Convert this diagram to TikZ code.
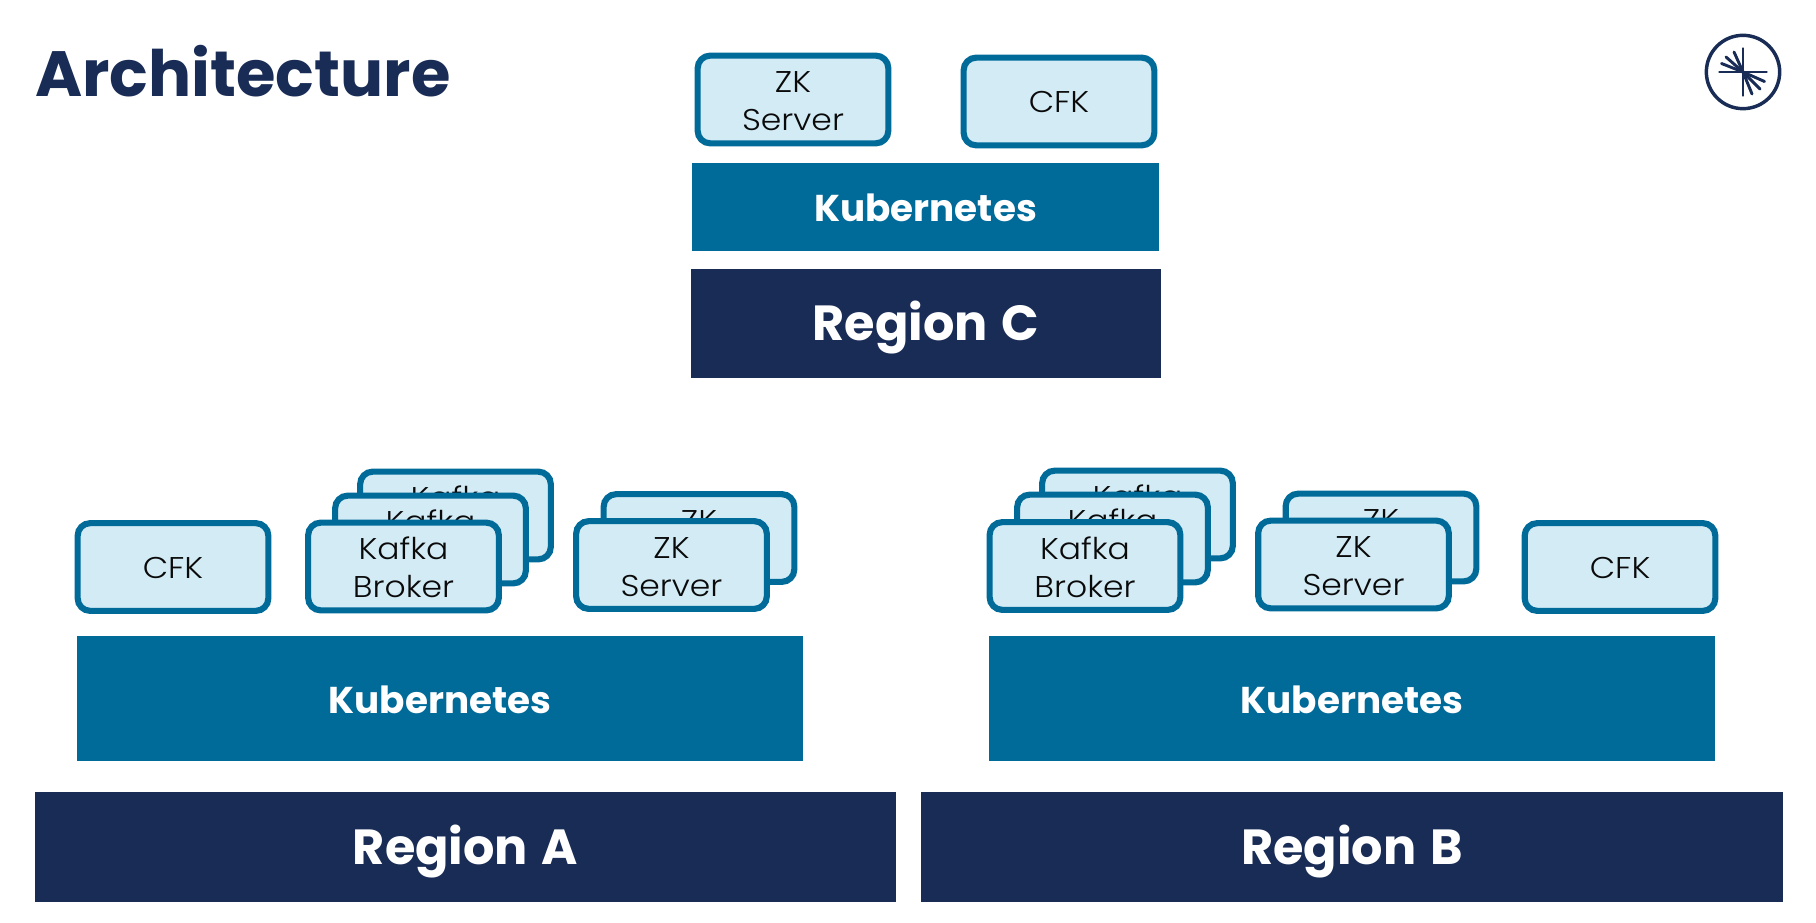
\documentclass[tikz,border=0pt]{standalone}
\usepackage{fontspec}
\setmainfont{Poppins}[WordSpace=1.3]
\newfontfamily\svcfont{Poppins}[UprightFont=* Light,FakeStretch=1.1]
\definecolor{navy}{HTML}{192C56}
\definecolor{kube}{HTML}{006A99}
\definecolor{pale}{HTML}{D2EBF5}
\definecolor{ink}{HTML}{0A0A0A}
\tikzset{
  x=0.75pt,y=-0.75pt,
  rect/.style 2 args={inner sep=0pt,outer sep=0pt,minimum width=#1*0.75pt,minimum height=#2*0.75pt,text=white,font=\bfseries},
  regionbox/.style 2 args={rect={#1}{#2},fill=navy,font=\bfseries\fontsize{37}{40}\selectfont,text height=26pt,text depth=0pt},
  kubebox/.style 2 args={rect={#1}{#2},fill=kube,font=\bfseries\fontsize{28}{32}\selectfont,text height=22.5pt,text depth=0pt},
  svc/.style={draw=kube,fill=pale,line width=4.6pt,rounded corners=9.4pt,inner sep=0pt,outer sep=0pt,
    minimum width=143pt,minimum height=65.8pt,text=ink,align=center,
    font=\svcfont\fontsize{22.5}{28.5}\selectfont,
    text height=46.5pt,text depth=0pt},
  single/.style={text height=16.5pt,text depth=0pt},
  ray/.style={draw=navy,line width=2.2pt,line cap=round},
}
\begin{document}
\begin{tikzpicture}
\useasboundingbox (0,0) rectangle (1816,923);
% title
\node[anchor=base west,inner sep=0pt,text=navy,font=\bfseries\fontsize{48}{52}\selectfont] (title) at (35,97) {Architecture};
% logo
\coordinate (lc) at (1743,72);
\node[draw=navy,line width=2.6pt,circle,minimum size=55pt,inner sep=0pt,outer sep=0pt] (logo) at (lc) {};
\foreach \dx/\dy in {-23.5/0,23.5/0,0/-23.5,0/23.5,-9/-20,-17/-15,-21.5/-8.5,9/22,17/17,21.5/9.5}
  \draw[ray] (lc) -- ++(\dx,\dy);
% region C
\node[svc] (zkC) at (793,99.5) {ZK\\Server};
\node[svc,single] (cfkC) at (1059,101.5) {CFK};
\node[kubebox={467}{88}] (kubeC) at (925.5,207) {Kubernetes};
\node[regionbox={470}{109}] (regionC) at (926,323.5) {Region C};
% region A
\node[svc,single] (cfkA) at (173,567) {CFK};
\node[svc] (kafkaA3) at (455.5,515.5) {Kafka\\\phantom{Broker}};
\node[svc] (kafkaA2) at (430.5,539.5) {Kafka\\\phantom{Broker}};
\node[svc] (kafkaA1) at (403.5,566.5) {Kafka\\Broker};
\node[svc] (zkA2) at (699,538) {ZK\\\phantom{Server}};
\node[svc] (zkA1) at (671.5,565) {ZK\\Server};
\node[kubebox={725.7}{125}] (kubeA) at (439.85,698.5) {Kubernetes};
\node[regionbox={861}{110}] (regionA) at (465.5,847) {Region A};
% region B
\node[svc] (kafkaB3) at (1137.5,514.5) {Kafka\\\phantom{Broker}};
\node[svc] (kafkaB2) at (1112.5,538.5) {Kafka\\\phantom{Broker}};
\node[svc] (kafkaB1) at (1085,566) {Kafka\\Broker};
\node[svc] (zkB2) at (1381,537.5) {ZK\\\phantom{Server}};
\node[svc] (zkB1) at (1353.5,564.5) {ZK\\Server};
\node[svc,single] (cfkB) at (1620,567) {CFK};
\node[kubebox={726}{125}] (kubeB) at (1352,698.5) {Kubernetes};
\node[regionbox={862}{110}] (regionB) at (1352,847) {Region B};
\end{tikzpicture}
\end{document}
